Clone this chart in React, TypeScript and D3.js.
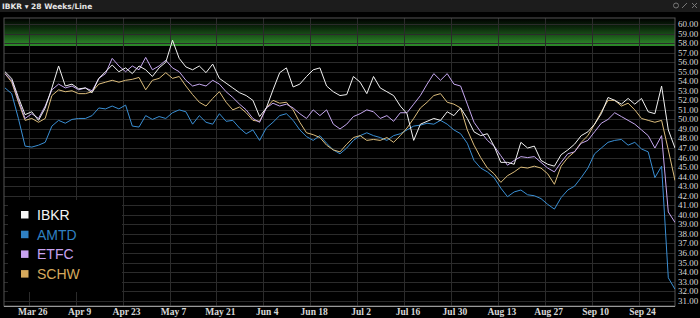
import React from "react";
import * as d3 from "d3";

const startDate = Date.UTC(2018, 2, 18);
const stepDays = 2;

const tickLabels = ["Mar 26", "Apr 9", "Apr 23", "May 7", "May 21", "Jun 4", "Jun 18", "Jul 2", "Jul 16", "Jul 30", "Aug 13", "Aug 27", "Sep 10", "Sep 24"];
const firstTick = Date.UTC(2018, 2, 26);

const yTicks = d3.range(31, 61);
const bandTop = 60.6;
const bandBottom = 57.7;

const seriesNames = ["IBKR", "AMTD", "ETFC", "SCHW"];
const lineColors = ["#f2f2f2", "#3a8fd4", "#c6a8f0", "#dcbd7c"];
const legendColors = ["#f4f4f4", "#2f80c2", "#c8a2f0", "#d6a95c"];

const ibkr = [55.0, 54.3, 52.3, 50.5, 50.8, 49.9, 51.2, 53.3, 55.6, 53.5, 53.7, 53.2, 53.3, 52.8, 54.3, 55.0, 55.7, 55.0, 55.4, 54.8, 55.6, 55.2, 54.5, 55.4, 56.0, 58.3, 56.4, 55.5, 55.2, 55.6, 54.9, 55.8, 54.3, 53.8, 53.3, 52.8, 52.5, 52.0, 50.3, 51.2, 53.1, 54.9, 55.4, 53.4, 53.7, 54.5, 55.2, 55.4, 53.5, 52.9, 52.5, 52.6, 54.5, 53.9, 52.7, 54.5, 53.3, 52.9, 52.5, 51.4, 50.6, 47.8, 49.5, 49.8, 50.1, 49.9, 50.8, 50.4, 51.2, 50.1, 48.7, 48.3, 48.5, 47.2, 45.5, 45.5, 45.3, 47.6, 47.0, 47.2, 45.7, 45.3, 45.1, 46.3, 46.8, 47.4, 48.3, 48.7, 49.5, 50.6, 52.3, 52.0, 51.6, 52.2, 51.6, 52.2, 50.8, 50.6, 53.5, 48.9, 47.0];
const amtd = [53.3, 52.7, 50.1, 47.2, 47.1, 47.3, 47.6, 49.3, 49.9, 49.6, 50.0, 50.1, 50.1, 50.4, 51.2, 51.1, 51.4, 51.1, 51.5, 49.3, 49.2, 50.4, 50.0, 50.3, 50.1, 50.7, 51.0, 50.8, 49.5, 50.4, 49.7, 49.5, 50.6, 49.8, 49.9, 49.1, 48.5, 48.9, 47.8, 49.1, 49.7, 50.4, 50.6, 49.9, 48.9, 48.2, 47.8, 48.3, 47.5, 46.8, 46.4, 47.0, 47.8, 48.3, 48.6, 48.3, 48.1, 47.8, 48.3, 48.5, 48.9, 49.3, 49.4, 49.6, 49.5, 49.9, 49.5, 48.9, 48.5, 47.5, 45.7, 44.9, 44.5, 43.9, 42.8, 41.9, 42.4, 42.6, 42.1, 42.0, 41.7, 41.1, 40.6, 41.8, 42.6, 43.0, 43.9, 44.9, 46.4, 47.0, 47.6, 47.8, 47.9, 47.3, 47.6, 46.9, 46.6, 43.9, 45.1, 33.4, 32.2];
const etfc = [54.8, 54.1, 52.0, 50.1, 50.6, 50.1, 51.4, 53.1, 53.7, 53.3, 53.5, 53.1, 53.3, 53.0, 54.3, 54.8, 56.4, 55.6, 55.0, 55.6, 55.2, 56.5, 55.2, 55.6, 56.2, 55.4, 55.0, 54.1, 53.5, 53.7, 53.5, 54.1, 53.7, 52.9, 52.3, 51.6, 51.0, 50.1, 49.7, 51.2, 51.7, 51.4, 51.6, 51.2, 50.6, 50.1, 51.0, 50.4, 51.0, 49.5, 49.0, 49.5, 50.3, 50.6, 51.0, 50.8, 50.1, 50.4, 49.8, 50.7, 50.7, 51.6, 52.5, 53.7, 54.8, 54.1, 54.8, 53.7, 53.5, 51.6, 49.7, 48.7, 47.8, 47.2, 46.2, 45.2, 45.7, 46.1, 46.0, 46.1, 45.5, 44.9, 44.5, 45.5, 46.4, 46.6, 47.5, 47.8, 48.7, 49.6, 50.0, 50.7, 50.3, 49.9, 49.5, 48.9, 48.3, 47.0, 48.3, 40.3, 39.2];
const schw = [54.8, 53.9, 51.8, 49.9, 50.1, 49.7, 50.1, 52.5, 53.1, 52.9, 53.0, 52.7, 52.7, 52.9, 53.7, 53.9, 54.1, 53.9, 54.1, 54.2, 54.4, 53.1, 54.1, 54.3, 54.9, 54.3, 54.5, 53.5, 52.6, 51.8, 51.4, 52.2, 52.9, 51.8, 51.0, 51.3, 50.7, 49.9, 49.8, 51.2, 52.0, 51.7, 51.8, 51.0, 49.7, 48.6, 48.4, 48.1, 47.3, 46.8, 46.6, 47.4, 48.1, 48.3, 47.8, 47.9, 47.8, 48.1, 47.6, 48.3, 49.1, 50.1, 51.2, 51.8, 52.5, 52.7, 51.8, 51.6, 51.2, 48.9, 47.3, 46.0, 44.9, 44.3, 43.4, 44.1, 44.5, 45.0, 44.9, 45.1, 44.9, 44.3, 43.2, 45.1, 46.0, 46.6, 47.6, 48.3, 49.5, 50.8, 52.0, 52.0, 51.4, 51.7, 51.0, 50.1, 49.9, 49.7, 49.9, 46.8, 43.6];

const seriesValues = [ibkr, amtd, etfc, schw];
const drawOrder = [1, 3, 2, 0];

const W = 700;
const H = 318;
const plotLeft = 4;
const plotRight = 675;
const plotTop = 18;
const plotBottom = 306;

export default function App() {
  const x = d3
    .scaleUtc()
    .domain([new Date(startDate), d3.utcDay.offset(new Date(startDate), 200)])
    .range([5, 675]);
  const y = d3.scaleLinear().domain([31, 60]).range([300.7, 24]);

  const dateAt = (i: number) => d3.utcDay.offset(new Date(startDate), i * stepDays);
  const line = d3
    .line<number>()
    .x((_, i) => x(dateAt(i)))
    .y((v) => y(v));

  const tickDates = tickLabels.map((_, i) => d3.utcDay.offset(new Date(firstTick), i * 14));

  return (
    <svg width={W} height={H} style={{ position: "absolute", left: 0, top: 0, background: "#000" }}>
      <defs>
        <linearGradient id="band" x1="0" y1="0" x2="0" y2="1">
          <stop offset="0%" stopColor="#000" />
          <stop offset="35%" stopColor="#0c2a0c" />
          <stop offset="100%" stopColor="#2f8f2c" />
        </linearGradient>
        <clipPath id="plotClip">
          <rect x={plotLeft} y={plotTop} width={plotRight - plotLeft} height={plotBottom - plotTop} />
        </clipPath>
      </defs>
      <rect x={0} y={0} width={W} height={H} fill="#000" />
      {/* title bar */}
      <rect x={0} y={0} width={W} height={12} fill="#1c1c1c" />
      <text x={2} y={9} fill="#e6e6e6" fontFamily="DejaVu Sans" fontWeight="bold" fontSize={7.5}>
        IBKR ▾ 28 Weeks/Line
      </text>
      <g stroke="#777" fill="none" strokeWidth={1}>
        <circle cx={676} cy={5.5} r={2.5} />
        <line x1={682} y1={8} x2={687} y2={3} />
        <line x1={692} y1={3} x2={697} y2={8} />
        <line x1={697} y1={3} x2={692} y2={8} />
      </g>

      {/* green band */}
      <rect
        x={plotLeft}
        y={y(bandTop)}
        width={plotRight - plotLeft}
        height={y(bandBottom) - y(bandTop)}
        fill="url(#band)"
      />

      {/* grid */}
      <g stroke="#2b2b2b" strokeWidth={1}>
        {yTicks.map((t) => (
          <line key={"h" + t} x1={plotLeft} x2={plotRight} y1={Math.round(y(t)) + 0.5} y2={Math.round(y(t)) + 0.5} />
        ))}
        {tickDates.map((d, i) => (
          <line key={"v" + i} x1={Math.round(x(d)) - 2.5} x2={Math.round(x(d)) - 2.5} y1={plotTop} y2={plotBottom} />
        ))}
      </g>
      <rect x={plotLeft} y={plotTop} width={plotRight - plotLeft} height={plotBottom - plotTop} fill="none" stroke="#555" strokeWidth={1} />
      <line x1={plotLeft} x2={plotRight} y1={plotBottom + 0.5} y2={plotBottom + 0.5} stroke="#9a9a9a" />

      {/* legend box */}
      <rect x={8} y={200} width={114} height={92} fill="#000" />

      {/* lines */}
      <g clipPath="url(#plotClip)" fill="none" strokeWidth={1} strokeLinejoin="round">
        {drawOrder.map((si) => (
          <path key={seriesNames[si]} d={line(seriesValues[si]) || ""} stroke={lineColors[si]} />
        ))}
      </g>

      {/* y axis labels */}
      <g fontFamily="Liberation Serif" fontSize={9} fill="#d8d8d8">
        {yTicks.map((t) => (
          <text key={"yl" + t} x={678} y={y(t) + 3}>
            {t.toFixed(2)}
          </text>
        ))}
      </g>

      {/* x axis labels */}
      <g fontFamily="Liberation Serif" fontWeight="bold" fontSize={9.5} fill="#d8d8d8" textAnchor="middle">
        {tickDates.map((d, i) => (
          <text key={"xl" + i} x={x(d) + 1} y={315}>
            {tickLabels[i]}
          </text>
        ))}
      </g>

      {/* legend */}
      <g fontFamily="Liberation Sans" fontSize={14}>
        {seriesNames.map((n, i) => (
          <g key={"lg" + n} transform={`translate(21, ${215 + i * 19.7})`}>
            <rect x={0} y={-4} width={7.5} height={7.5} fill={legendColors[i]} />
            <text x={16} y={5} fill={legendColors[i]}>
              {n}
            </text>
          </g>
        ))}
      </g>
    </svg>
  );
}
